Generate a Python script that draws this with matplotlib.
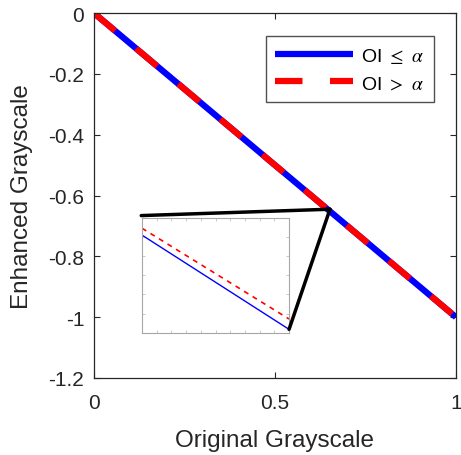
import numpy as np
import matplotlib
matplotlib.use("Agg")
import matplotlib.pyplot as plt
from matplotlib.patches import ConnectionPatch

plt.rcParams['font.family'] = ['Liberation Sans', 'DejaVu Sans']
plt.rcParams['mathtext.fontset'] = 'stix'

# Main curves (original vs enhanced grayscale)
orig = [0.0, 1.0]
enh_low = [0.0, -1.0]    # OI <= alpha
enh_high = [0.0, -1.0]   # OI > alpha

# Zoom window shown in the inset (normalised inside the inset)
zoom_x = 0.652
inset_x = [0.0, 1.0]
inset_low = [0.85, 0.03]
inset_high = [0.91, 0.12]

xticks = [0, 0.5, 1]
yticks = [0, -0.2, -0.4, -0.6, -0.8, -1, -1.2]

axis_col = '0.15'

fig = plt.figure(figsize=(4.61, 4.56), dpi=100)
ax = fig.add_axes([0.204, 0.169, 0.785, 0.800])

ax.plot(orig, enh_low, color='blue', lw=4.5, solid_capstyle='butt', label=r'OI $\leq$ $\alpha$')
ax.plot(orig, enh_high, color='red', lw=4.5, dashes=(4.4, 4.4), dash_capstyle='butt',
        label=r'OI $>$ $\alpha$')

ax.set_xlim(0, 1)
ax.set_ylim(-1.2, 0)
ax.set_xticks(xticks)
ax.set_xticklabels(['0', '0.5', '1'])
ax.set_yticks(yticks)
ax.set_yticklabels(['0', '-0.2', '-0.4', '-0.6', '-0.8', '-1', '-1.2'])
ax.tick_params(direction='in', length=4, width=0.8, top=True, right=True,
               labelsize=15, colors=axis_col)
ax.tick_params(axis='x', pad=11)
ax.tick_params(axis='y', pad=7)
for s in ax.spines.values():
    s.set_color(axis_col)
    s.set_linewidth(0.9)
ax.set_xlabel('Original Grayscale', fontsize=17.5, color=axis_col, labelpad=12)
ax.set_ylabel('Enhanced Grayscale', fontsize=17.5, color=axis_col, labelpad=11)

leg = ax.legend(loc='upper right', bbox_to_anchor=(0.939, 0.937), fontsize=14,
                handlelength=4.0, frameon=True, fancybox=False, borderpad=0.5,
                labelspacing=0.5, handletextpad=0.4, borderaxespad=0)
leg.get_frame().set_edgecolor(axis_col)
leg.get_frame().set_linewidth(1.0)

# Inset
axin = fig.add_axes([0.308, 0.268, 0.319, 0.252])
axin.plot(inset_x, inset_low, color='blue', lw=1.0)
axin.plot(inset_x, inset_high, color='red', lw=1.2, dashes=(3, 3))
axin.set_xlim(0, 1)
axin.set_ylim(0, 1)
axin.set_xticks(np.linspace(0, 1, 11))
axin.set_yticks(np.linspace(0, 1, 7))
axin.set_xticklabels([])
axin.set_yticklabels([])
axin.tick_params(direction='in', length=2, width=0.5, top=True, right=True, colors='0.7')
for s in axin.spines.values():
    s.set_color('0.65')
    s.set_linewidth(0.8)

# Connecting lines from inset to the zoomed point on the main curve
for xy_in in [(-0.005, 1.02), (1.0, inset_low[1])]:
    con = ConnectionPatch(xyA=xy_in, coordsA=axin.transAxes,
                          xyB=(zoom_x, -zoom_x + 0.007), coordsB=ax.transData,
                          color='black', lw=2.5)
    fig.add_artist(con)

fig.savefig('out.png', dpi=100)
